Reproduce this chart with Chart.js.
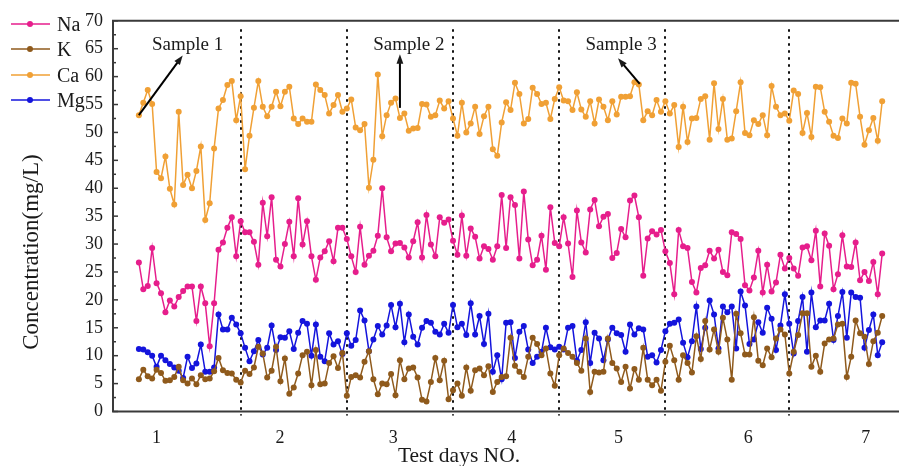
<!DOCTYPE html>
<html>
<head>
<meta charset="utf-8">
<script src="https://cdn.jsdelivr.net/npm/chart.js@4.4.0/dist/chart.umd.min.js"></script>
<style>
    html, body { margin: 0; padding: 0; background: #fff; }
    #wrap { width: 902px; height: 466px; }
</style>
</head>
<body>
<div id="wrap"><canvas id="chartCanvas" width="902" height="466"></canvas></div>
<script>
// --- data (one point per sample, index 0..168) ---
const naValues = [26.7, 21.9, 22.5, 29.3, 23.0, 21.2, 17.8, 19.9, 18.8, 20.5, 21.6, 22.4, 22.4, 16.2, 22.4, 19.4, 11.7, 19.4, 29.0, 30.3,
    32.9, 34.8, 27.8, 34.1, 32.1, 32.1, 30.4, 26.3, 37.4, 31.4, 38.4, 27.2, 26.0, 30.0, 34.0, 27.8, 38.2, 29.9, 34.1, 27.8,
    23.6, 27.6, 28.7, 30.5, 26.9, 32.9, 32.9, 30.9, 27.8, 25.0, 33.1, 26.3, 27.9, 28.8, 31.5, 40.0, 31.2, 28.7, 30.1, 30.2,
    29.4, 27.6, 30.5, 33.9, 27.6, 35.2, 29.9, 27.8, 34.8, 33.8, 34.4, 30.6, 28.1, 35.1, 27.9, 32.8, 31.3, 27.4, 29.6, 29.1,
    27.2, 29.6, 38.8, 29.3, 38.4, 37.0, 27.4, 39.4, 30.8, 26.2, 27.2, 31.5, 25.4, 36.6, 30.2, 29.6, 34.8, 30.1, 24.1, 36.0,
    30.3, 28.5, 36.2, 37.9, 33.2, 34.9, 35.4, 27.5, 28.4, 32.7, 31.2, 37.8, 38.7, 34.8, 24.3, 31.0, 32.3, 31.7, 32.5, 28.7,
    26.6, 21.0, 32.5, 29.6, 29.3, 23.2, 21.3, 25.7, 26.2, 28.8, 27.4, 29.0, 25.0, 24.4, 32.1, 31.8, 30.9, 22.6, 21.7, 24.0,
    28.8, 21.3, 26.3, 21.5, 23.1, 28.1, 25.6, 27.5, 25.6, 24.3, 29.4, 29.6, 27.1, 32.4, 22.4, 31.9, 29.7, 21.9, 24.6, 31.6,
    26.0, 25.9, 30.3, 23.5, 25.0, 23.4, 26.8, 21.0, 28.3];

const kValues = [5.8, 7.5, 6.3, 5.9, 7.5, 6.9, 5.5, 5.6, 6.2, 8.0, 5.6, 5.0, 5.9, 4.9, 6.5, 5.8, 5.9, 7.2, 9.6, 7.4,
    6.9, 6.8, 5.7, 5.2, 7.3, 6.7, 7.9, 11.6, 10.4, 6.1, 7.3, 11.6, 5.4, 9.5, 3.2, 4.3, 6.8, 10.1, 10.7, 4.7,
    11.0, 4.9, 5.0, 8.7, 9.9, 7.8, 10.5, 2.8, 6.2, 6.5, 6.1, 8.9, 10.8, 5.8, 3.1, 5.0, 4.9, 6.7, 2.9, 9.2,
    5.8, 7.7, 7.9, 6.1, 2.1, 1.8, 5.3, 9.6, 5.6, 9.1, 2.2, 3.8, 5.0, 2.8, 7.9, 3.7, 7.4, 7.7, 6.5, 8.1,
    3.5, 5.3, 6.2, 6.3, 13.2, 8.2, 7.1, 6.2, 9.8, 13.2, 12.1, 10.1, 11.3, 6.8, 4.6, 10.1, 11.3, 10.5, 9.8, 8.7,
    7.3, 13.1, 3.5, 7.1, 7.0, 7.1, 13.1, 8.7, 7.7, 5.3, 8.0, 4.1, 7.6, 5.7, 11.4, 5.7, 4.7, 5.7, 3.7, 8.9,
    11.8, 9.2, 5.7, 10.1, 8.7, 7.0, 13.5, 9.4, 16.2, 11.1, 14.7, 10.7, 16.8, 12.9, 5.7, 17.5, 14.0, 10.2, 10.2, 16.9,
    9.1, 8.3, 11.3, 9.7, 13.1, 14.7, 13.8, 6.8, 10.7, 13.7, 17.6, 17.6, 8.0, 10.0, 7.1, 12.2, 12.9, 13.1, 15.6, 15.7,
    6.2, 9.8, 16.3, 14.0, 13.4, 8.5, 12.6, 14.1, 17.1];

const caValues = [53.1, 55.3, 57.6, 55.1, 42.9, 41.8, 45.7, 39.9, 37.1, 53.7, 40.6, 42.4, 40.0, 43.1, 47.5, 34.3, 37.3, 47.1, 54.3, 55.8,
    58.5, 59.2, 52.2, 56.5, 43.4, 49.4, 54.4, 59.2, 54.6, 52.9, 54.6, 57.3, 54.7, 57.3, 58.2, 52.5, 51.5, 52.5, 51.9, 51.9,
    58.6, 57.6, 56.7, 53.4, 54.9, 56.7, 53.7, 54.3, 55.9, 50.9, 50.4, 51.5, 40.1, 45.1, 60.4, 49.3, 53.1, 55.3, 56.1, 52.6,
    53.4, 50.3, 50.7, 50.8, 55.1, 55.0, 52.8, 53.1, 55.7, 54.3, 55.6, 52.5, 49.4, 55.3, 50.0, 51.6, 54.6, 49.7, 52.9, 54.6,
    47.0, 45.8, 51.8, 55.4, 54.0, 58.9, 56.9, 51.6, 52.4, 58.0, 56.9, 55.1, 55.3, 52.4, 56.0, 58.1, 55.7, 55.6, 54.0, 57.2,
    54.1, 52.8, 55.6, 51.6, 55.9, 54.6, 52.2, 55.6, 53.2, 56.4, 56.4, 56.5, 59.0, 58.6, 52.2, 53.8, 53.1, 55.8, 53.7, 55.6,
    53.4, 54.9, 47.4, 54.6, 48.3, 52.5, 52.6, 56.0, 56.5, 48.7, 58.8, 50.6, 56.0, 48.7, 48.9, 53.8, 59.0, 49.9, 49.5, 52.2,
    51.5, 53.1, 49.5, 58.3, 54.6, 53.1, 53.4, 52.1, 57.5, 56.9, 49.9, 53.5, 49.2, 58.2, 58.1, 53.7, 51.9, 49.4, 49.0, 52.5,
    51.6, 58.9, 58.7, 52.8, 47.8, 50.4, 52.6, 48.5, 55.6];

const mgValues = [11.2, 11.1, 10.6, 10.0, 8.0, 10.0, 9.2, 8.5, 7.9, 7.3, 6.0, 9.8, 7.8, 8.6, 12.0, 7.1, 7.1, 7.9, 17.4, 14.7,
    14.7, 16.8, 15.6, 14.0, 11.4, 9.0, 10.8, 12.8, 10.2, 11.4, 15.4, 11.0, 13.3, 13.2, 14.4, 11.2, 14.1, 16.2, 15.7, 10.0,
    15.6, 9.8, 9.0, 14.0, 12.0, 12.6, 10.3, 14.0, 11.8, 12.8, 18.1, 16.3, 10.8, 12.9, 15.3, 13.8, 15.4, 19.1, 15.1, 19.3,
    12.4, 17.4, 13.4, 12.0, 15.0, 16.2, 15.9, 14.3, 13.8, 15.7, 14.1, 19.1, 15.1, 15.7, 13.7, 19.4, 13.8, 17.1, 12.1, 17.5,
    7.1, 10.1, 5.8, 15.9, 16.0, 9.6, 14.3, 15.3, 11.1, 8.7, 9.8, 10.7, 15.0, 11.5, 11.1, 11.6, 11.1, 15.0, 15.3, 9.1,
    11.0, 16.0, 8.7, 14.1, 13.1, 9.2, 12.9, 15.0, 14.0, 13.7, 10.7, 15.6, 13.8, 14.9, 14.7, 9.8, 10.1, 8.8, 11.0, 14.4,
    15.7, 15.9, 16.5, 12.3, 9.7, 12.6, 18.8, 11.2, 15.0, 19.9, 17.4, 11.3, 18.8, 17.8, 18.8, 11.3, 21.5, 19.0, 12.1, 12.9,
    16.0, 14.1, 18.6, 16.6, 11.0, 15.4, 21.0, 15.7, 10.4, 16.2, 20.5, 10.7, 21.3, 15.1, 16.3, 16.3, 19.3, 12.8, 17.1, 21.4,
    13.2, 21.3, 20.5, 20.4, 11.4, 14.6, 17.4, 10.1, 12.4];

const dayLabels = ['1', '2', '3', '4', '5', '6', '7'];
const dayTickPos = [4.0, 31.9, 57.5, 84.3, 108.4, 137.7, 164.3];
const dayDividers = [23, 47, 71, 95, 119, 147];

// sample notes: text anchor and arrow (from -> to), in chart units
const sampleNotes = [
    { text: 'Sample 1', tx: 11.0, ty: 65.6, from: [0, 53.1], to: [9.9, 63.8] },
    { text: 'Sample 2', tx: 61.0, ty: 65.6, from: [59.0, 54.4], to: [59.0, 64.0] },
    { text: 'Sample 3', tx: 109.0, ty: 65.6, from: [113.2, 58.7], to: [108.3, 63.3] }
];

const FONT = "'Liberation Serif', 'Times New Roman', serif";
const INK = '#1a1a1a';

function toPoints(values) {
    return values.map((v, i) => ({ x: i, y: v }));
}

function makeSet(label, values, color) {
    return {
        label: label,
        data: toPoints(values),
        borderColor: color,
        backgroundColor: color,
        borderWidth: 1.5,
        pointRadius: 3,
        pointHoverRadius: 3,
        pointBorderWidth: 0,
        tension: 0
    };
}

function drawArrow(ctx, x1, y1, x2, y2) {
    const ang = Math.atan2(y2 - y1, x2 - x1);
    const head = 10;
    ctx.beginPath();
    ctx.moveTo(x1, y1);
    ctx.lineTo(x2 - Math.cos(ang) * head * 0.8, y2 - Math.sin(ang) * head * 0.8);
    ctx.stroke();
    ctx.beginPath();
    ctx.moveTo(x2, y2);
    ctx.lineTo(x2 - head * Math.cos(ang - 0.35), y2 - head * Math.sin(ang - 0.35));
    ctx.lineTo(x2 - head * Math.cos(ang + 0.35), y2 - head * Math.sin(ang + 0.35));
    ctx.closePath();
    ctx.fill();
}

const overlay = {
    id: 'overlay',
    beforeDatasetsDraw(chart) {
        const { ctx, chartArea: a, scales: { x, y } } = chart;
        ctx.save();
        // dotted day separators
        ctx.strokeStyle = '#111';
        ctx.lineWidth = 2;
        ctx.setLineDash([2.5, 4.5]);
        dayDividers.forEach(d => {
            const px = Math.round(x.getPixelForValue(d));
            ctx.beginPath();
            ctx.moveTo(px, y.getPixelForValue(68.5));
            ctx.lineTo(px, a.bottom + 4);
            ctx.stroke();
        });
        ctx.restore();
    },
    afterDraw(chart) {
        const { ctx, chartArea: a, scales: { x, y } } = chart;
        ctx.save();

        // frame: top, left, bottom
        ctx.strokeStyle = '#3a3a3a';
        ctx.lineWidth = 2;
        ctx.beginPath();
        ctx.moveTo(a.right, a.top);
        ctx.lineTo(a.left, a.top);
        ctx.lineTo(a.left, a.bottom);
        ctx.lineTo(a.right, a.bottom);
        ctx.stroke();

        // inward ticks on y axis
        ctx.lineWidth = 1.5;
        for (let v = 0; v <= 70; v += 2.5) {
            const py = y.getPixelForValue(v);
            const len = (v % 5 === 0) ? 5 : 3;
            ctx.beginPath();
            ctx.moveTo(a.left, py);
            ctx.lineTo(a.left + len, py);
            ctx.stroke();
        }

        // sample notes
        ctx.fillStyle = INK;
        ctx.strokeStyle = '#000';
        ctx.lineWidth = 2;
        ctx.font = '19px ' + FONT;
        ctx.textAlign = 'center';
        ctx.textBaseline = 'middle';
        sampleNotes.forEach(n => {
            ctx.fillText(n.text, x.getPixelForValue(n.tx), y.getPixelForValue(n.ty));
            drawArrow(ctx,
                x.getPixelForValue(n.from[0]), y.getPixelForValue(n.from[1]),
                x.getPixelForValue(n.to[0]), y.getPixelForValue(n.to[1]));
        });

        // legend, top left
        const rows = [24, 49, 75, 100];
        ctx.font = '20px ' + FONT;
        ctx.textAlign = 'left';
        chart.data.datasets.forEach((ds, i) => {
            const ry = rows[i];
            ctx.strokeStyle = ds.borderColor;
            ctx.lineWidth = 1.5;
            ctx.beginPath();
            ctx.moveTo(11, ry);
            ctx.lineTo(50, ry);
            ctx.stroke();
            ctx.fillStyle = ds.borderColor;
            ctx.beginPath();
            ctx.arc(30, ry, 3, 0, Math.PI * 2);
            ctx.fill();
            ctx.fillStyle = INK;
            ctx.fillText(ds.label, 57, ry + 2);
        });

        // axis titles
        ctx.textAlign = 'center';
        ctx.font = '21.5px ' + FONT;
        ctx.fillText('Test days NO.', 459, 456);
        ctx.font = '23px ' + FONT;
        ctx.translate(32, 252);
        ctx.rotate(-Math.PI / 2);
        ctx.fillText('Concentration(mg/L)', 0, 0);

        ctx.restore();
    }
};

const ctx = document.getElementById('chartCanvas').getContext('2d');

new Chart(ctx, {
    type: 'line',
    data: {
        datasets: [
            makeSet('Na', naValues, '#e61e8c'),
            makeSet('K', kValues, '#8f5a1c'),
            makeSet('Ca', caValues, '#f0a035'),
            makeSet('Mg', mgValues, '#1414dc')
        ]
    },
    options: {
        responsive: false,
        devicePixelRatio: 1,
        animation: false,
        layout: { padding: { top: 19.5, right: 0, left: 0, bottom: 0 } },
        plugins: {
            legend: { display: false },
            tooltip: { enabled: false }
        },
        scales: {
            x: {
                type: 'linear',
                min: -5.85,
                max: 171.8,
                grid: { display: false, drawTicks: false },
                border: { display: false },
                afterBuildTicks: scale => {
                    scale.ticks = dayTickPos.map(v => ({ value: v }));
                },
                afterFit: scale => { scale.height = 54.5; },
                ticks: {
                    autoSkip: false,
                    maxRotation: 0,
                    padding: 16,
                    color: INK,
                    font: { family: FONT, size: 18 },
                    callback: (value, index) => dayLabels[index]
                }
            },
            y: {
                min: 0,
                max: 70,
                grid: { display: false, drawTicks: false },
                border: { display: false },
                afterFit: scale => { scale.width = 113; },
                ticks: {
                    stepSize: 5,
                    padding: 10,
                    color: INK,
                    font: { family: FONT, size: 18 }
                }
            }
        }
    },
    plugins: [overlay]
});
</script>
</body>
</html>
